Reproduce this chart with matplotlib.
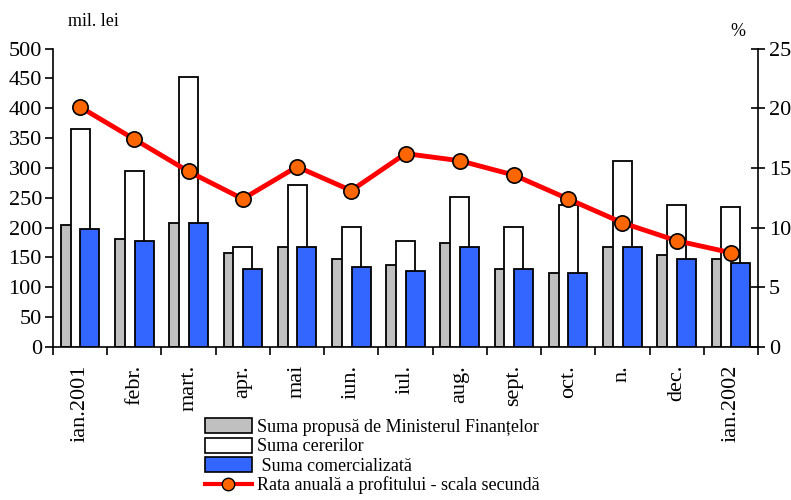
import matplotlib
matplotlib.use("Agg")
import matplotlib.pyplot as plt
import numpy as np
from matplotlib.lines import Line2D
from matplotlib.patches import Patch

categories = ["ian.2001", "febr.", "mart.", "apr.", "mai", "iun.", "iul.",
              "aug.", "sept.", "oct.", "n.", "dec.", "ian.2002"]
suma_propusa = [204, 181, 208, 157, 167, 147, 137, 174, 131, 124, 167, 154, 147]
suma_cererilor = [365, 295, 452, 167, 271, 201, 178, 252, 201, 238, 312, 238, 235]
suma_comercializata = [198, 178, 208, 131, 167, 134, 128, 167, 131, 124, 167, 147, 141]
rata_profit = [20.1, 17.4, 14.7, 12.4, 15.1, 13.1, 16.2, 15.6, 14.4, 12.4, 10.4, 8.9, 7.9]

legend_labels = ["Suma propusă de Ministerul Finanțelor", "Suma cererilor",
                 " Suma comercializată", "Rata anuală a profitului - scala secundă"]

plt.rcParams['font.family'] = ['Liberation Serif', 'DejaVu Serif']

fig = plt.figure(figsize=(7.91, 5.0), dpi=100)
ax = fig.add_axes([53/791, 1-347/500, (758-53)/791, (347-48.5)/500])
ax2 = ax.twinx()

x = np.arange(len(categories))
w = 0.35
off = 0.18
ax.bar(x - off, suma_propusa, w, color="#C0C0C0", edgecolor="black", linewidth=1.3, zorder=2)
ax.bar(x, suma_cererilor, w, color="white", edgecolor="black", linewidth=1.3, zorder=3)
ax.bar(x + off, suma_comercializata, w, color="#3366FF", edgecolor="black", linewidth=1.3, zorder=4)

ax2.plot(x, rata_profit, color="#FF0000", linewidth=3.5, marker="o", markersize=11,
         markerfacecolor="#FF6600", markeredgecolor="black", markeredgewidth=1.2, zorder=5)

ax.set_xlim(-0.5, len(categories) - 0.5)
ax.set_ylim(0, 500)
ax2.set_ylim(0, 25)
ax.set_yticks(np.arange(0, 501, 50))
ax2.set_yticks(np.arange(0, 26, 5))

for a in (ax, ax2):
    a.spines['top'].set_visible(False)
ax.spines['right'].set_visible(False)
ax2.spines['left'].set_visible(False)
ax2.spines['bottom'].set_visible(False)
for s in ['left', 'bottom']:
    ax.spines[s].set_linewidth(1.2)
ax2.spines['right'].set_linewidth(1.2)

ax.set_xticks(x)
ax.set_xticklabels(categories, rotation=90, fontsize=16)
ax.tick_params(axis='x', length=0, pad=13)
ax.set_xticks(np.arange(-0.5, len(categories), 1), minor=True)
ax.tick_params(axis='x', which='minor', length=6, width=1.2, direction='out')
ax.tick_params(axis='y', labelsize=16, length=6, width=1.2, direction='out', pad=2)
ax2.tick_params(axis='y', labelsize=16, length=10, width=1.2, direction='inout', pad=3)

fig.text(68/791, 1-22/500, "mil. lei", fontsize=13, ha='left', va='center')
fig.text(738/791, 1-32/500, "%", fontsize=13, ha='center', va='center')

handles = [Patch(facecolor="#C0C0C0", edgecolor="black", linewidth=1.2),
           Patch(facecolor="white", edgecolor="black", linewidth=1.2),
           Patch(facecolor="#3366FF", edgecolor="black", linewidth=1.2),
           Line2D([], [], color="#FF0000", linewidth=3, marker="o", markersize=9,
                  markerfacecolor="#FF6600", markeredgecolor="black")]
fig.legend(handles, legend_labels, loc='upper left', bbox_to_anchor=(205/791, 1-418/500),
           frameon=False, fontsize=13, handlelength=2.6, handleheight=0.9,
           handletextpad=0.3, labelspacing=0.1, borderpad=0, borderaxespad=0)

fig.savefig("out.png", dpi=100)
